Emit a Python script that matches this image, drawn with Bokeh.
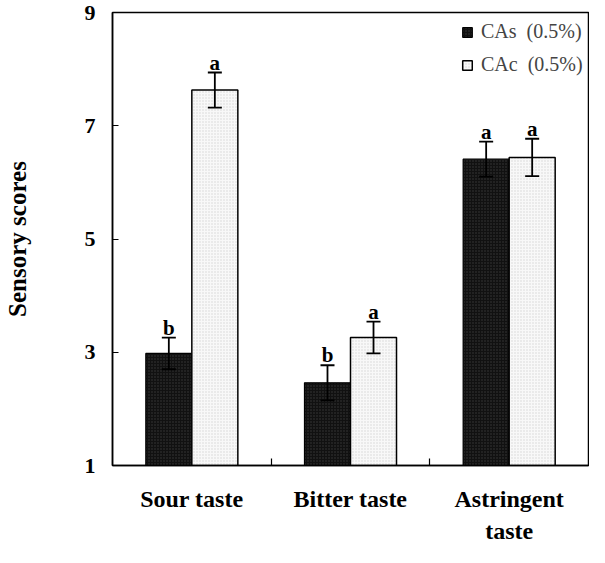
from bokeh.plotting import figure
from bokeh.models import (Range1d, FixedTicker, ColumnDataSource, Whisker,
                          TeeHead, Legend, LegendItem)
from bokeh.core.properties import value
from bokeh.embed import file_html
from bokeh.resources import INLINE

categories = ["Sour taste", "Bitter taste", "Astringent\ntaste"]
series_names = ["CAs\u00a0 (0.5%)", "CAc\u00a0 (0.5%)"]
cas = [2.98, 2.46, 6.41]
cas_err = [0.28, 0.31, 0.31]
cac = [7.63, 3.26, 6.44]
cac_err = [0.31, 0.28, 0.33]
cas_letters = ["b", "b", "a"]
cac_letters = ["a", "a", "a"]
y_ticks = [1, 3, 5, 7, 9]

FONT = "Liberation Serif"
bw = 0.29
centers = [i + 0.5 for i in range(len(categories))]
boundaries = [i for i in range(1, len(categories))]

p = figure(width=589, height=547, output_backend="svg", toolbar_location=None,
           x_range=Range1d(0, len(categories)), y_range=Range1d(1, 9),
           min_border_left=107, min_border_right=1, min_border_top=12, min_border_bottom=80)
p.background_fill_color = "white"
p.border_fill_color = "white"
p.outline_line_color = "black"
p.outline_line_width = 1.5
p.xgrid.visible = False
p.ygrid.visible = False

def make_src(vals, errs, letters, shift):
    return ColumnDataSource(dict(
        x=[c + shift for c in centers],
        top=vals,
        upper=[v + e for v, e in zip(vals, errs)],
        lower=[v - e for v, e in zip(vals, errs)],
        letter=letters,
    ))

src_s = make_src(cas, cas_err, cas_letters, -bw / 2)
src_c = make_src(cac, cac_err, cac_letters, bw / 2)

r1 = p.vbar(x="x", top="top", bottom=1, width=bw, source=src_s,
            fill_color="#111111", line_color="black", line_width=1.2,
            hatch_pattern="dot", hatch_color="#3a3a3a", hatch_scale=3, hatch_weight=1)
r2 = p.vbar(x="x", top="top", bottom=1, width=bw, source=src_c,
            fill_color="#f8f8f8", line_color="black", line_width=1.5,
            hatch_pattern="dot", hatch_color="#d4d4d4", hatch_scale=3, hatch_weight=1)

for src in (src_s, src_c):
    w = Whisker(source=src, base="x", upper="upper", lower="lower",
                line_color="black", line_width=1.8, level="overlay",
                upper_head=TeeHead(size=14, line_width=1.8, line_color="black"),
                lower_head=TeeHead(size=14, line_width=1.8, line_color="black"))
    p.add_layout(w)
    p.text(x="x", y="upper", text="letter", source=src, text_align="center",
           text_baseline="alphabetic", y_offset=-10, text_font=value(FONT),
           text_font_style="bold", text_font_size="21px", text_color="black")

# y axis
p.yaxis.ticker = FixedTicker(ticks=y_ticks)
p.yaxis.major_tick_in = 6
p.yaxis.major_tick_out = 0
p.yaxis.minor_tick_line_color = None
p.yaxis.major_label_standoff = 17
p.yaxis.major_label_text_font = FONT
p.yaxis.major_label_text_font_style = "bold"
p.yaxis.major_label_text_font_size = "22px"
p.yaxis.major_label_text_color = "black"
p.yaxis.axis_line_width = 1.5
p.yaxis.major_tick_line_width = 1.2
p.yaxis.axis_label = "Sensory scores"
p.yaxis.axis_label_text_font = FONT
p.yaxis.axis_label_text_font_style = "bold"
p.yaxis.axis_label_text_font_size = "25px"
p.yaxis.axis_label_text_color = "black"
p.yaxis.axis_label_standoff = 51

# x axis: labels at category centres, tick marks between categories
p.xaxis.ticker = FixedTicker(ticks=centers, minor_ticks=boundaries)
p.xaxis.major_label_overrides = {c: n for c, n in zip(centers, categories)}
p.xaxis.major_tick_in = 0
p.xaxis.major_tick_out = 0
p.xaxis.major_tick_line_color = None
p.xaxis.minor_tick_in = 7
p.xaxis.minor_tick_out = 0
p.xaxis.minor_tick_line_color = "black"
p.xaxis.minor_tick_line_width = 1.2
p.xaxis.axis_line_width = 1.5
p.xaxis.major_label_standoff = 20
p.xaxis.major_label_text_font = FONT
p.xaxis.major_label_text_font_style = "bold"
p.xaxis.major_label_text_font_size = "24px"
p.xaxis.major_label_text_color = "black"
p.xaxis.major_label_text_line_height = 1.25

legend = Legend(items=[LegendItem(label=series_names[0], renderers=[r1]),
                       LegendItem(label=series_names[1], renderers=[r2])],
                location=(349, 389), padding=0, margin=0, spacing=10,
                glyph_width=12, glyph_height=12, label_height=22,
                label_text_font=FONT, label_text_font_size="20px",
                label_standoff=8, background_fill_alpha=0, border_line_color=None)
p.add_layout(legend)

open("out.html", "w").write(file_html(p, INLINE))
